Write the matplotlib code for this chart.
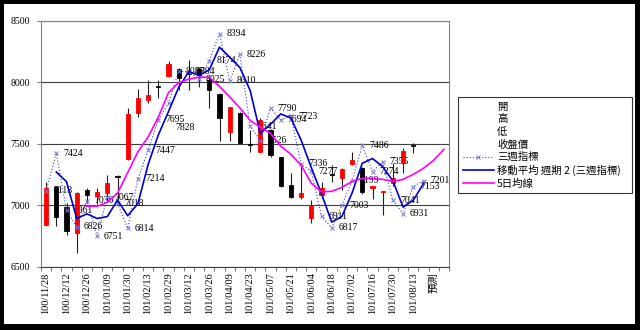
import numpy as np
import matplotlib.pyplot as plt
from matplotlib.lines import Line2D
from matplotlib.patches import Rectangle

# category labels (every other week is labelled)
date_labels = ["100/11/28", "100/12/12", "100/12/26", "101/01/09", "101/01/30",
               "101/02/13", "101/02/29", "101/03/12", "101/03/26", "101/04/09",
               "101/04/23", "101/05/07", "101/05/21", "101/06/04", "101/06/18",
               "101/07/02", "101/07/16", "101/07/30", "101/08/13", "預測"]
n_cats = 40

# weekly candles
opens = [6837, 7147, 6983, 6775, 7122, 7075, 7098, 7240, 7380, 7750,
         7855, 7967, 8050, 8105, 8072, 8110, 8015, 7905, 7595, 7750,
         7495, 7430, 7610, 7390, 7165, 7065, 6900, 7085, 7255, 7225,
         7335, 7300, 7138, 7105, 7180, 7340, 7490]
highs = [7190, 7160, 7016, 7110, 7140, 7140, 7245, 7250, 7790, 7945,
         8015, 8015, 8170, 8115, 8180, 8115, 8055, 7910, 7800, 7760,
         7615, 7705, 7620, 7395, 7260, 7340, 7040, 7190, 7330, 7300,
         7430, 7310, 7160, 7115, 7345, 7465, 7505]
lows = [6830, 6830, 6760, 6610, 7020, 7015, 7040, 7040, 7365, 7720,
        7830, 7870, 8040, 7935, 7935, 7960, 7790, 7525, 7525, 7505,
        7435, 7430, 7395, 7150, 7060, 7055, 6855, 7060, 7190, 7125,
        7325, 7095, 7050, 6920, 7160, 7260, 7425]
closes = [7139, 6902, 6789, 7100, 7085, 7112, 7180, 7232, 7745, 7870,
          7895, 7960, 8145, 8035, 8065, 8055, 7935, 7710, 7795, 7510,
          7488, 7690, 7405, 7155, 7065, 7098, 6995, 7145, 7248, 7295,
          7365, 7105, 7155, 7115, 7220, 7445, 7485]

# three-week indicator
week3 = [7118, 7424, 6961, 6826, 7036, 6751, 7067, 7018, 6814, 7214,
         7447, 7695, 7828, 8087, 8084, 8025, 8174, 8394, 8010, 8226,
         7641, 7526, 7790, 7694, 7723, 7336, 7277, 6911, 6817, 7003,
         7199, 7486, 7274, 7355, 7041, 6931, 7153, 7201]

# 5-day average
nan = np.nan
ma5 = [nan, nan, nan, nan, 6993, 6993, 7025, 7098, 7265, 7435,
       7555, 7715, 7915, 7995, 8025, 8040, 8040, 7965, 7880, 7790,
       7690, 7634, 7585, 7480, 7415, 7325, 7180, 7110, 7114, 7146,
       7195, 7219, 7219, 7211, 7195, 7211, 7252, 7301, 7366, 7455]

SERIF = ["Liberation Serif", "Noto Sans CJK TC"]
CJK = ["Noto Sans CJK TC", "DejaVu Sans"]
W3_LINE = "#4040c8"
W3_MARK = "#7878e0"
MA_COLOR = "#0000cc"
MA5_COLOR = "#ff00ff"

fig = plt.figure(figsize=(6.4, 3.3), dpi=100, facecolor="black")
fig.add_artist(Rectangle((4 / 640, 6 / 330), 631 / 640, 320 / 330,
                         transform=fig.transFigure, facecolor="white",
                         edgecolor="none", zorder=-1))

ax = fig.add_axes([41 / 640, 1 - 267 / 330, 408 / 640, 246.5 / 330])
ax.set_xlim(-0.5, n_cats - 0.5)
ax.set_ylim(6500, 8500)

# candles
o = np.array(opens, float)
c = np.array(closes, float)
idx = np.arange(len(o))
colors = np.where(c >= o, "#ff0000", "#000000")
ax.vlines(idx, lows, highs, color="#202020", lw=0.8, zorder=3)
ax.bar(idx, np.abs(c - o), bottom=np.minimum(o, c), width=0.42,
       color=colors, edgecolor=colors, lw=0.6, zorder=4)

# indicator lines
w = np.array(week3, float)
wx = np.arange(len(w))
ax.plot(wx, w, ls=(0, (1, 1.8)), color=W3_LINE, lw=0.8, marker="x",
        ms=3.2, mec=W3_MARK, mew=0.7, zorder=5)
ma2 = (w[1:] + w[:-1]) / 2
ax.plot(wx[1:], ma2, color=MA_COLOR, lw=1.2, zorder=5)
ax.plot(np.arange(n_cats), ma5, color=MA5_COLOR, lw=1.2, zorder=5)

# value labels (one was dragged below its point)
label_shift = {12: -24}
for i, v in enumerate(week3):
    ax.annotate(str(v), (i, v), xytext=(7, label_shift.get(i, 0)),
                textcoords="offset pixels", ha="left", va="center",
                fontsize=7, family=SERIF, zorder=3.5)

# axes styling
ax.yaxis.grid(True, color="#404040", lw=0.8)
ax.set_axisbelow(True)
for s in ("top", "right"):
    ax.spines[s].set_color("#808080")
    ax.spines[s].set_linewidth(0.8)
ax.spines["left"].set_color("#808080")
ax.spines["bottom"].set_color("#404040")

ax.set_yticks([6500, 7000, 7500, 8000, 8500])
ax.set_yticklabels(["6500", "7000", "7500", "8000", "8500"],
                   fontsize=7, family=SERIF)
ax.tick_params(axis="y", length=3, color="#808080", pad=5)

ax.set_xticks(np.arange(-0.5, n_cats, 1))
ax.set_xticklabels([])
ax.tick_params(axis="x", which="major", length=3, color="#808080")
ax.set_xticks(np.arange(0, 2 * len(date_labels), 2), minor=True)
ax.set_xticklabels(date_labels, minor=True, rotation=90, fontsize=7.5,
                   family=SERIF, va="top")
ax.tick_params(axis="x", which="minor", length=0, pad=4)

handles = [Line2D([], [], ls="none") for _ in range(4)]
handles += [
    Line2D([], [], ls=(0, (1, 1.8)), color=W3_LINE, lw=0.8, marker="x",
           ms=3.2, mec=W3_MARK, mew=0.7),
    Line2D([], [], color=MA_COLOR, lw=1.2),
    Line2D([], [], color=MA5_COLOR, lw=1.2),
]
labels = ["開", "高", "低", "收盤價", "三週指標", "移動平均 週期 2 (三週指標)", "5日均線"]
leg = fig.legend(handles, labels, loc="upper left",
                 bbox_to_anchor=(458 / 640, 1 - 189 / 330, 174 / 640, 92 / 330),
                 bbox_transform=fig.transFigure, mode="expand",
                 frameon=True, fancybox=False, edgecolor="black",
                 prop={"family": CJK, "size": 7.5}, handlelength=3.0,
                 handletextpad=0.3, labelspacing=0.24, borderpad=0.45,
                 borderaxespad=0)
leg.get_frame().set_linewidth(0.8)

fig.savefig("out.png", dpi=100, facecolor="black")
